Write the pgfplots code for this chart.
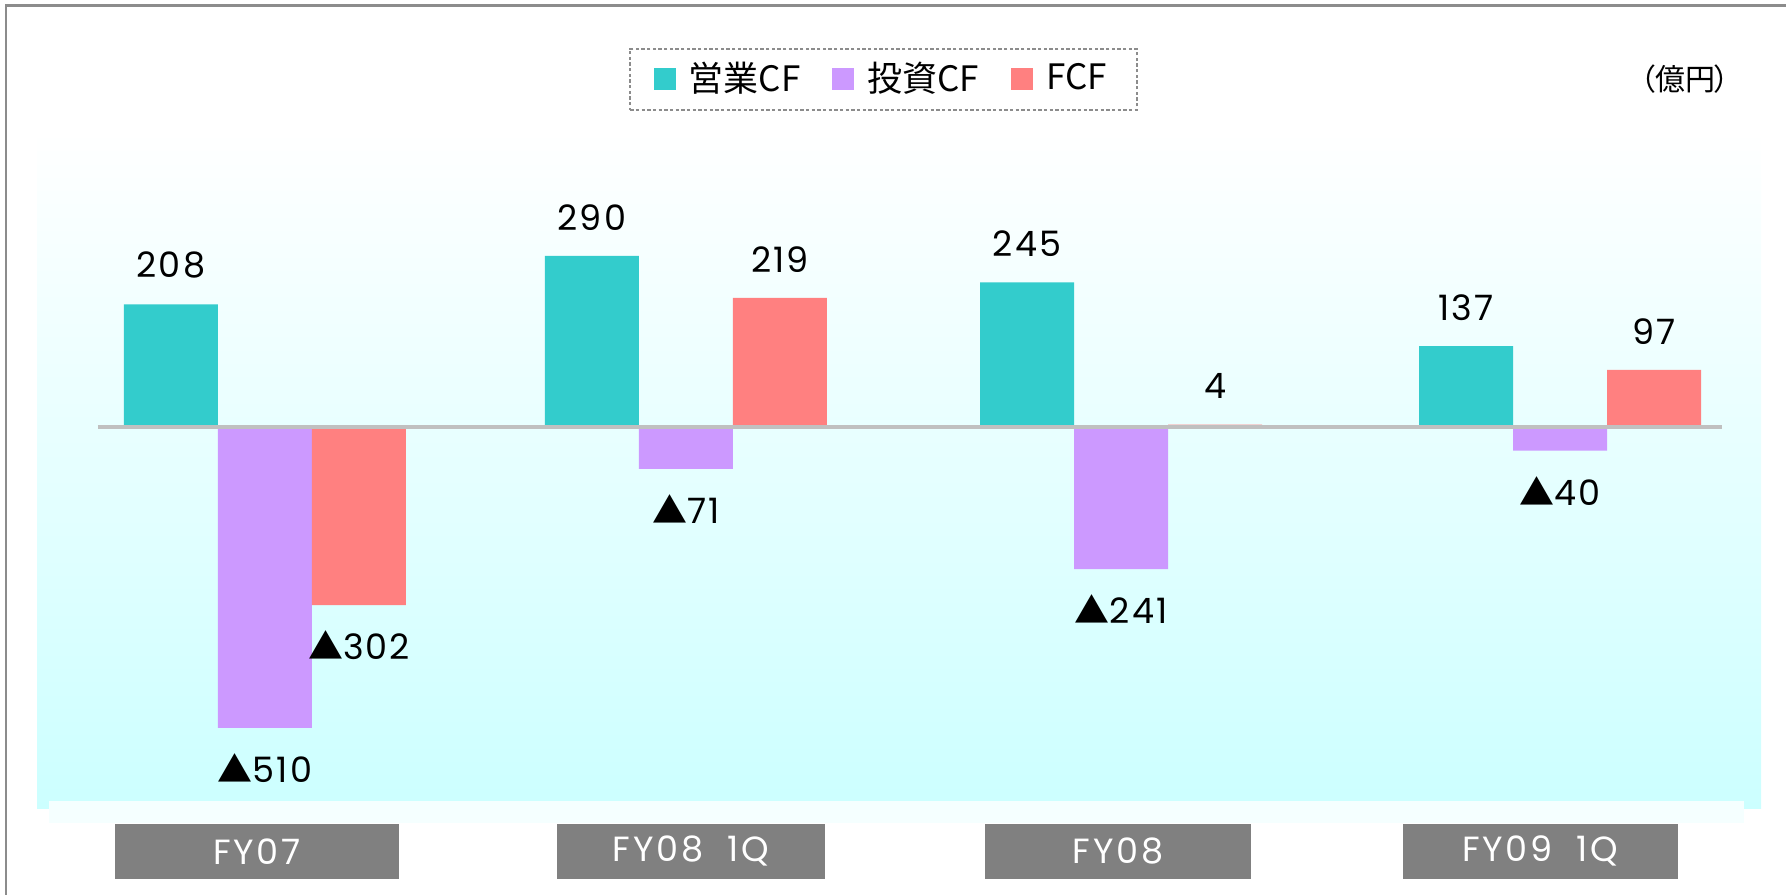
\documentclass[border=0pt]{standalone}
\usepackage{fontspec}
\setmainfont{Poppins}
\newfontfamily\valfont{Poppins}[LetterSpace=6]
\newfontfamily\tickfont{Poppins}[LetterSpace=8]
\newfontfamily\cjk{Noto Sans CJK JP}[RawFeature=+palt]
\usepackage{pgfplots}
\pgfplotsset{compat=1.18}
\definecolor{opcf}{HTML}{33CCCC}
\definecolor{invcf}{HTML}{CC99FF}
\definecolor{fcf}{HTML}{FF8080}
\definecolor{zeroline}{HTML}{C0C0C0}
\definecolor{bgcyan}{HTML}{CCFFFF}
\definecolor{stripcyan}{HTML}{F5FFFF}
\definecolor{boxgray}{HTML}{808080}
\definecolor{framegray}{HTML}{8C8C8C}
\protected\def\tri{{\cjk ▲}}
\pgfplotsset{sqlegend/.style={legend image code/.code={\fill[##1] (0pt,-3.3pt) rectangle (6.6pt,3.3pt);}}}

\begin{document}
\begin{tikzpicture}
% page = 1786 x 894 px at 0.3pt per px, origin at the axis' lower left corner
\useasboundingbox (-11.1pt,-25.8pt) rectangle (524.7pt,242.4pt);
\draw[framegray, line width=0.75pt] (-9.24pt,-40pt) -- (-9.24pt,240.8pt) -- (600pt,240.8pt);
\begin{axis}[
  at={(0pt,0pt)}, anchor=south west,
  width=517.2pt, height=203.1pt, scale only axis,
  xmin=-0.528, xmax=3.465, ymin=-645.8, ymax=501.7,
  axis line style={draw=none}, tick style={draw=none}, major tick length=0pt,
  axis background/.style={top color=white, bottom color=bgcyan},
  ybar=0pt, bar width=28.2pt,
  ytick=\empty,
  xtick={-0.0185,0.987,1.976,2.954},
  xticklabels={{\makebox[85.2pt]{FY07}}, {\makebox[80.4pt]{FY08\ \ 1Q}}, {\makebox[80pt]{FY08}}, {\makebox[82.5pt]{FY09\ \ 1Q}}},
  xticklabel style={fill=boxgray, text=white, inner xsep=0pt, inner ysep=0pt, minimum height=16.5pt,
    anchor=north, yshift=-4.5pt, font=\tickfont\fontsize{10.5}{12}\selectfont},
  point meta=explicit symbolic,
  visualization depends on={rawy \as \rawy},
  nodes near coords,
  nodes near coords style={font=\valfont\fontsize{10.5}{12}\selectfont, text=black, inner ysep=7.5pt, inner xsep=0pt},
  every node near coord/.append style={anchor={\ifdim\rawy pt<0pt north\else south\fi}},
  legend columns=-1,
  legend style={at={(0.491,1)}, anchor=south, yshift=6.1pt, draw=framegray, dash pattern=on 1pt off 0.7pt,
    line width=0.5pt, fill=white, inner xsep=7pt, inner ysep=2pt,
    font=\cjk\fontsize{10.5}{12}\selectfont,
    /tikz/every odd column/.append style={column sep=2pt},
    /tikz/every even column/.append style={column sep=7.5pt}},
]
\addplot[fill=opcf, draw=none, sqlegend] coordinates {(0,208) [208] (0.975,290) [290] (1.983,245) [245] (3,137) [137]};
\addplot[fill=invcf, draw=none, sqlegend] coordinates {(0,-510) [\tri510] (0.975,-71) [\tri71] (1.983,-241) [\tri241] (3,-40) [\tri40]};
\addplot[fill=fcf, draw=none, sqlegend] coordinates {(0,-302) [\tri302] (0.975,219) [219] (1.983,4) [4] (3,97) [97]};
\legend{営業CF, 投資CF, FCF}
\draw[zeroline, line width=1.2pt] (axis cs:-0.387,0) -- (axis cs:3.375,0);
\end{axis}
\fill[stripcyan] (3.6pt,2.1pt) rectangle (512.1pt,-4.5pt);
\node[font=\cjk\fontsize{9}{10}\selectfont] at (494.4pt,218.7pt) {（億円）};
\end{tikzpicture}
\end{document}
